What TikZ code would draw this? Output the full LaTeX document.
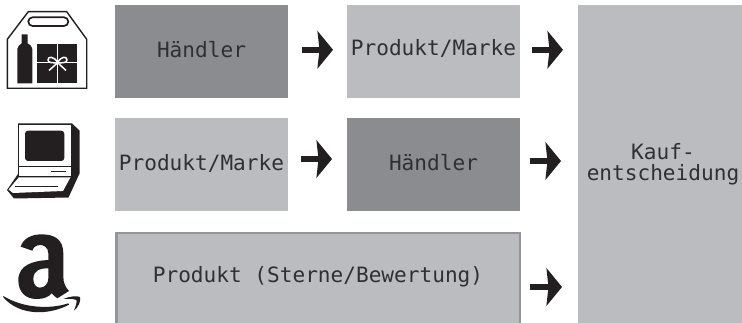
\documentclass[tikz,border=0pt]{standalone}
\usepackage{fontspec}
\setmainfont{DejaVu Sans Mono}
\usetikzlibrary{arrows.meta}
\definecolor{darkbox}{HTML}{8B8C8F}
\definecolor{lightbox}{HTML}{BBBCC0}
\definecolor{edgebox}{HTML}{939598}
\definecolor{ink}{HTML}{231F20}
\definecolor{label}{HTML}{303030}
\tikzset{
  cell/.style={inner sep=0pt,outer sep=0pt,text=label,font=\fontsize{21.1}{21.1}\selectfont,
    minimum width=173pt,minimum height=93pt,text depth=0pt,text height=11pt},
  lightcell/.style={cell,fill=lightbox},
  darkcell/.style={cell,fill=darkbox},
  flow/.style={draw=ink,line width=6.5pt,-{Stealth[length=15.5pt,width=37.5pt,inset=2pt,fill=ink]}},
  iconfill/.style={fill=ink,draw=none},
  iconline/.style={draw=ink,line width=1.4pt,line join=miter},
}
\begin{document}
\begin{tikzpicture}[x=1pt,y=-1pt]
\useasboundingbox (0,0) rectangle (742,323);
\clip (0,0) rectangle (742,323);
\fill[white] (0,0) rectangle (742,323);
% boxes
\node[darkcell,text height=13pt] (h1) at (201.5,51.5) {Händler};
\node[lightcell,text height=9pt] (p1) at (433.5,51.5) {Produkt/Marke};
\node[lightcell,text height=12pt] (p2) at (201.5,164.5) {Produkt/Marke};
\node[darkcell,text height=12pt] (h2) at (433.5,164.5) {Händler};
\node[lightcell,minimum width=403.5pt,minimum height=93pt,draw=edgebox,line width=2.5pt,text height=6pt] (p3) at (318,279.7) {Produkt (Sterne/Bewertung)};
\node[lightcell,minimum width=164pt,minimum height=318pt,align=center,text height=34pt] (k) at (660,164) {\hspace*{6pt}Kauf-\\\hspace*{6pt}entscheidung};
% connectors
\draw[flow] ([xshift=14pt,yshift=1.7pt]h1.east) -- ([xshift=-14pt,yshift=1.7pt]p1.west);
\draw[flow] ([xshift=12pt,yshift=1.7pt]p1.east) -- ([xshift=-15pt,yshift=1.7pt]p1.east -| k.west);
\draw[flow] ([xshift=13pt,yshift=5.5pt]p2.east) -- ([xshift=-15pt,yshift=5.5pt]h2.west);
\draw[flow] ([xshift=10pt,yshift=3.5pt]h2.east) -- ([xshift=-17pt,yshift=3.5pt]h2.east -| k.west);
\draw[flow] ([xshift=10pt,yshift=-7.3pt]p3.east) -- ([xshift=-16pt,yshift=-7.3pt]p3.east -| k.west);
% gift-box icon
\draw[iconline,fill=white] (7.3,88.3) -- (7.3,39.3) -- (28.3,11.7) -- (66.7,11.7) -- (86.7,39.3) -- (86.7,88.3) -- cycle;
\draw[draw=ink,line width=1.7pt,rounded corners=4.3pt] (28.3,17.3) rectangle (68.3,26);
\fill[iconfill] (21.7,34.3) -- (27.7,34.3) -- (27.7,43.3) .. controls (30,45) and (32.3,46) .. (32.3,49) -- (32.3,83.3) -- (17.3,83.3) -- (17.3,49) .. controls (17.3,46) and (20,45) .. (21.7,43.3) -- cycle;
\fill[iconfill] (37.3,44) rectangle (77.3,83.3);
\draw[white,line width=1pt] (57.7,44) -- (57.7,83.3) (37.3,62.7) -- (77.3,62.7);
\draw[white,line width=1.5pt,fill=ink] (57.7,62.7) .. controls (54,56) and (48,56) .. (48,60) .. controls (48,63) and (53,63) .. (57.7,62.7) .. controls (62,63) and (67,63) .. (67,60) .. controls (67,56) and (61,56) .. (57.7,62.7);
\draw[white,line width=1.5pt] (57.7,62.7) -- (49,70.5) (57.7,62.7) -- (66,70.5);
% computer icon
\fill[iconfill] (18,123.5) -- (72,123.5) -- (79.5,130.5) -- (79.5,173.5) -- (68.5,197.5) -- (14,198.5) -- (7,190) -- (18,174) -- cycle;
\fill[white] (19,125) -- (71,125) -- (71,176) -- (19,176) -- cycle;
\fill[white] (18.8,177.3) -- (70.5,177.3) -- (63,191) -- (13,193) -- (8.6,189.5) -- cycle;
\draw[draw=ink,line width=1pt] (19,166.7) -- (71,166.7);
\fill[iconfill,rounded corners=3pt] (25,130.7) rectangle (64.3,161);
\draw[draw=ink,line width=1.4pt] (51,171.7) -- (65.7,171.7) (15,186.3) -- (57.7,186.3);
% amazon icon
\begin{scope}[shift={(0,230)},x=0.3333pt,y=-0.3333pt]
\fill[iconfill,even odd rule] (62,50) .. controls (70,25) and (95,13) .. (125,13) .. controls (165,13) and (190,30) .. (190,70) -- (190,140) .. controls (190,160) and (197,172) .. (207,183) -- (172,205) .. controls (165,200) and (160,196) .. (155,190) .. controls (145,202) and (130,207) .. (110,207) .. controls (75,207) and (55,185) .. (55,150) .. controls (55,105) and (100,92) .. (145,90) -- (145,70) .. controls (145,52) and (130,45) .. (122,45) .. controls (108,45) and (100,52) .. (97,62) -- cycle
(145,115) .. controls (120,115) and (100,120) .. (100,148) .. controls (100,165) and (110,173) .. (120,173) .. controls (135,173) and (145,160) .. (145,145) -- cycle;
\fill[iconfill] (10,198) .. controls (70,235) and (150,238) .. (205,220) -- (207,224) .. controls (150,255) and (60,260) .. (10,202) -- cycle;
\fill[iconfill] (190,207) .. controls (210,198) and (232,197) .. (240,201) .. controls (244,212) and (235,232) .. (222,242) .. controls (227,228) and (232,215) .. (229,210) .. controls (222,206) and (205,207) .. (190,207) -- cycle;
\end{scope}
\end{tikzpicture}
\end{document}
